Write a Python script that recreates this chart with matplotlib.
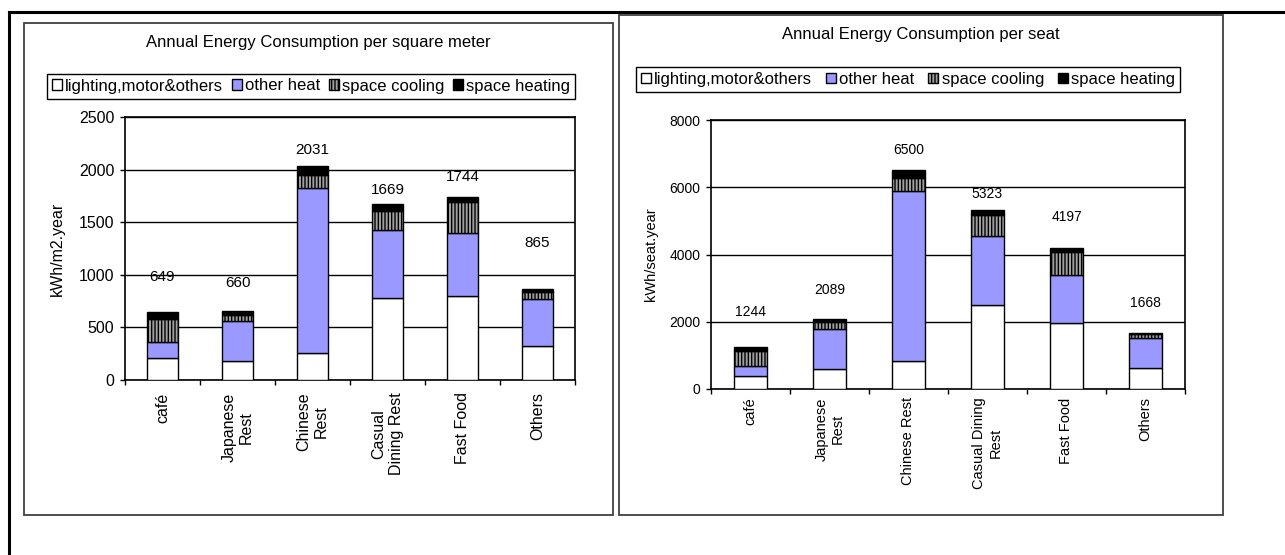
import numpy as np
import matplotlib.pyplot as plt
from matplotlib.patches import Rectangle
from matplotlib.lines import Line2D

plt.rcParams['font.family'] = ['Liberation Sans', 'DejaVu Sans']
plt.rcParams['hatch.linewidth'] = 1.0


# -----------------------------
# Data
# -----------------------------
series_names = ["lighting,motor&others", "other heat", "space cooling", "space heating"]

# per square meter (kWh/m2.year)
area_labels = ["café", "Japanese\nRest", "Chinese\nRest", "Casual\nDining Rest", "Fast Food", "Others"]
area_lighting = [206, 180, 253, 775, 801, 323]
area_other_heat = [152, 377, 1573, 649, 598, 449]
area_cooling = [221, 57, 120, 184, 294, 67]
area_heating = [70, 46, 85, 61, 51, 26]

# per seat (kWh/seat.year)
seat_labels = ["café", "Japanese\nRest", "Chinese Rest", "Casual Dining\nRest", "Fast Food", "Others"]
seat_lighting = [396, 594, 822, 2485, 1950, 624]
seat_other_heat = [297, 1198, 5057, 2060, 1436, 881]
seat_cooling = [426, 188, 394, 627, 693, 119]
seat_heating = [125, 109, 227, 151, 118, 44]


# -----------------------------
# Layout helpers (pixel -> figure fraction)
# -----------------------------
W, H = 1285, 555
fig = plt.figure(figsize=(W / 100, H / 100), dpi=100)


def fx(x):
    return x / W


def fy(y):
    return 1 - y / H


def frame_box(x0, y0, x1, y1, lw, color):
    fig.add_artist(Rectangle((fx(x0), fy(y1)), fx(x1) - fx(x0), fy(y0) - fy(y1),
                             transform=fig.transFigure, fill=False,
                             linewidth=lw, edgecolor=color))


segment_styles = [
    dict(facecolor="white"),
    dict(facecolor="#9999ff"),
    dict(facecolor="#a0a0a0", hatch="|||||"),
    dict(facecolor="black"),
]


def stacked_panel(ax, labels, parts, lift, ymax, ystep, ylabel,
                  tick_size, xlab_size, value_size, xpad, ylabel_x):
    x = np.arange(len(labels))
    bottom = np.zeros(len(labels))
    handles = []
    for values, name, style in zip(parts, series_names, segment_styles):
        b = ax.bar(x, values, 0.41, bottom=bottom, edgecolor="black",
                   linewidth=1, zorder=3, label=name, **style)
        handles.append(b)
        bottom = bottom + np.array(values)

    # total on top of every bar
    for xi, total, dy in zip(x, bottom, lift):
        ax.text(xi, total + dy, f"{total:.0f}", ha="center", va="center",
                fontsize=value_size)

    ax.set_xlim(-0.5, len(labels) - 0.5)
    ax.set_ylim(0, ymax)
    ax.set_yticks(np.arange(0, ymax + 1, ystep))
    ax.yaxis.grid(True, color="black", linewidth=1)
    ax.set_axisbelow(True)

    ax.set_xticks(x, labels, rotation=90, fontsize=xlab_size)
    for t in ax.get_xticklabels():
        t.set_multialignment("center")
    ax.set_xticks(np.arange(-0.5, len(labels)), minor=True)
    ax.tick_params(axis="x", which="major", length=0, pad=xpad)
    ax.tick_params(axis="x", which="minor", length=3.6, width=1, direction="out")
    ax.tick_params(axis="y", length=3.6, width=1, direction="out",
                   labelsize=tick_size, pad=4)

    ax.set_ylabel(ylabel, fontsize=xlab_size, va="center")
    ax.yaxis.set_label_coords(ylabel_x, 0.5)
    for s in ax.spines.values():
        s.set_linewidth(1.2)
        s.set_color("black")
    return handles


def panel_legend(handles, x0, y0, x1, y1):
    leg = fig.legend(handles, series_names, loc="center",
                     bbox_to_anchor=(fx(x0), fy(y1), fx(x1) - fx(x0), fy(y0) - fy(y1)),
                     mode="expand", ncol=4, fontsize=12, fancybox=False,
                     edgecolor="black", framealpha=1, handlelength=0.6,
                     handleheight=0.6, handletextpad=0.2, columnspacing=0.4,
                     borderpad=0.3, borderaxespad=0)
    leg.get_frame().set_linewidth(1)


# -----------------------------
# Outer page frame and chart frames
# -----------------------------
fig.add_artist(Line2D([fx(9), 1], [fy(12), fy(12)], transform=fig.transFigure,
                      color="black", linewidth=2.2))
fig.add_artist(Line2D([fx(9), fx(9)], [fy(12), 0], transform=fig.transFigure,
                      color="black", linewidth=2.2))
frame_box(24, 23, 613, 515, 1.3, "#404040")
frame_box(619, 15, 1223, 515, 1.3, "#404040")


# -----------------------------
# Left chart: per square meter
# -----------------------------
ax1 = fig.add_axes([fx(125), fy(380), fx(575) - fx(125), fy(117) - fy(380)])
area_lift = [332, 258, 156, 135, 186, 442]
h1 = stacked_panel(ax1, area_labels,
                   [area_lighting, area_other_heat, area_cooling, area_heating],
                   area_lift, 2500, 500, "kWh/m2.year",
                   tick_size=11.5, xlab_size=11.5, value_size=11,
                   xpad=9, ylabel_x=(57 - 125) / 450)
fig.text(fx(318.5), fy(43), "Annual Energy Consumption per square meter",
         ha="center", va="center", fontsize=12)
panel_legend(h1, 47, 71, 575, 101)


# -----------------------------
# Right chart: per seat
# -----------------------------
ax2 = fig.add_axes([fx(711), fy(389), fx(1185) - fx(711), fy(120) - fy(389)])
seat_lift = [1043, 851, 611, 475, 924, 886]
h2 = stacked_panel(ax2, seat_labels,
                   [seat_lighting, seat_other_heat, seat_cooling, seat_heating],
                   seat_lift, 8000, 2000, "kWh/seat.year",
                   tick_size=10, xlab_size=10.5, value_size=10,
                   xpad=6, ylabel_x=(651 - 711) / 474)
fig.text(fx(921), fy(35), "Annual Energy Consumption per seat",
         ha="center", va="center", fontsize=12)
panel_legend(h2, 636, 63, 1180, 96)

fig.savefig("out.png", dpi=100)
